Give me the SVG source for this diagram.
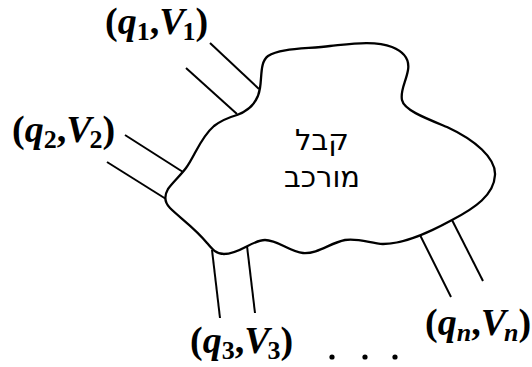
<svg xmlns="http://www.w3.org/2000/svg" width="532" height="367" viewBox="0 0 532 367">
<style>
.ln{stroke:#000;stroke-width:2;fill:none;stroke-linecap:butt}
.blob{stroke:#000;stroke-width:2.3;fill:#fff;stroke-linejoin:round}
.lab{font-family:"Liberation Serif","Times New Roman",serif;font-size:38px;font-weight:bold;fill:#000}
.it{font-style:italic}
.sub{font-size:26px;font-style:normal}
.subi{font-size:26px;font-style:italic}
.heb{font-family:"DejaVu Sans","Liberation Sans",sans-serif;font-size:29px;fill:#000;text-anchor:middle}
</style>
<g id="connectors">
<line class="ln" x1="210" y1="43" x2="259" y2="89"/>
<line class="ln" x1="186" y1="68" x2="237" y2="114"/>
<line class="ln" x1="125" y1="135" x2="183" y2="172"/>
<line class="ln" x1="107" y1="162" x2="166" y2="199"/>
<line class="ln" x1="212" y1="250" x2="220" y2="318"/>
<line class="ln" x1="247" y1="246" x2="255" y2="313"/>
<line class="ln" x1="420" y1="235" x2="451" y2="297"/>
<line class="ln" x1="452" y1="220" x2="483" y2="281"/>
</g>
<g id="cable">
<path class="blob" d="M237,115 C250,110 258,102 260,88 C262,76 260,62 268,56 C280,48 305,49 330,46 C350,44 375,40 392,47 C402,51 410,58 408,70 C406,82 400,90 402,100 C404,110 425,118 447,127 C475,140 496,158 495,175 C494,195 475,208 452,220 C430,232 405,244 383,244 C370,243 358,238 345,240 C330,243 318,254 303,253 C290,252 278,240 265,240 C252,240 240,254 224,254 C216,254 212,249 207,243 C195,228 180,218 170,208 C164,202 164,196 168,189 C173,182 180,176 186,168 C195,156 200,138 214,126 C222,120 230,117 237,115 Z"/>
<text class="heb" x="322" y="150">קבל</text>
<text class="heb" x="322" y="187">מורכב</text>
</g>
<g id="port1">
<text class="lab" x="105" y="34">(<tspan class="it">q</tspan><tspan class="sub" dy="6">1</tspan><tspan dy="-6">,</tspan><tspan class="it">V</tspan><tspan class="sub" dx="-2" dy="6">1</tspan><tspan dy="-6">)</tspan></text>
</g>
<g id="port2">
<text class="lab" x="12" y="142">(<tspan class="it">q</tspan><tspan class="sub" dy="6">2</tspan><tspan dy="-6">,</tspan><tspan class="it">V</tspan><tspan class="sub" dx="-2" dy="6">2</tspan><tspan dy="-6">)</tspan></text>
</g>
<g id="port3">
<text class="lab" x="190" y="353">(<tspan class="it">q</tspan><tspan class="sub" dy="6">3</tspan><tspan dy="-6">,</tspan><tspan class="it">V</tspan><tspan class="sub" dx="-2" dy="6">3</tspan><tspan dy="-6">)</tspan></text>
</g>
<g id="portn">
<text class="lab" x="425" y="335">(<tspan class="it">q</tspan><tspan class="subi" dy="6">n</tspan><tspan dy="-6">,</tspan><tspan class="it">V</tspan><tspan class="subi" dx="-2" dy="6">n</tspan><tspan dy="-6">)</tspan></text>
</g>
<g id="dots">
<circle cx="332" cy="357" r="2.6"/>
<circle cx="365" cy="357" r="2.6"/>
<circle cx="395" cy="357" r="2.6"/>
</g>
</svg>
